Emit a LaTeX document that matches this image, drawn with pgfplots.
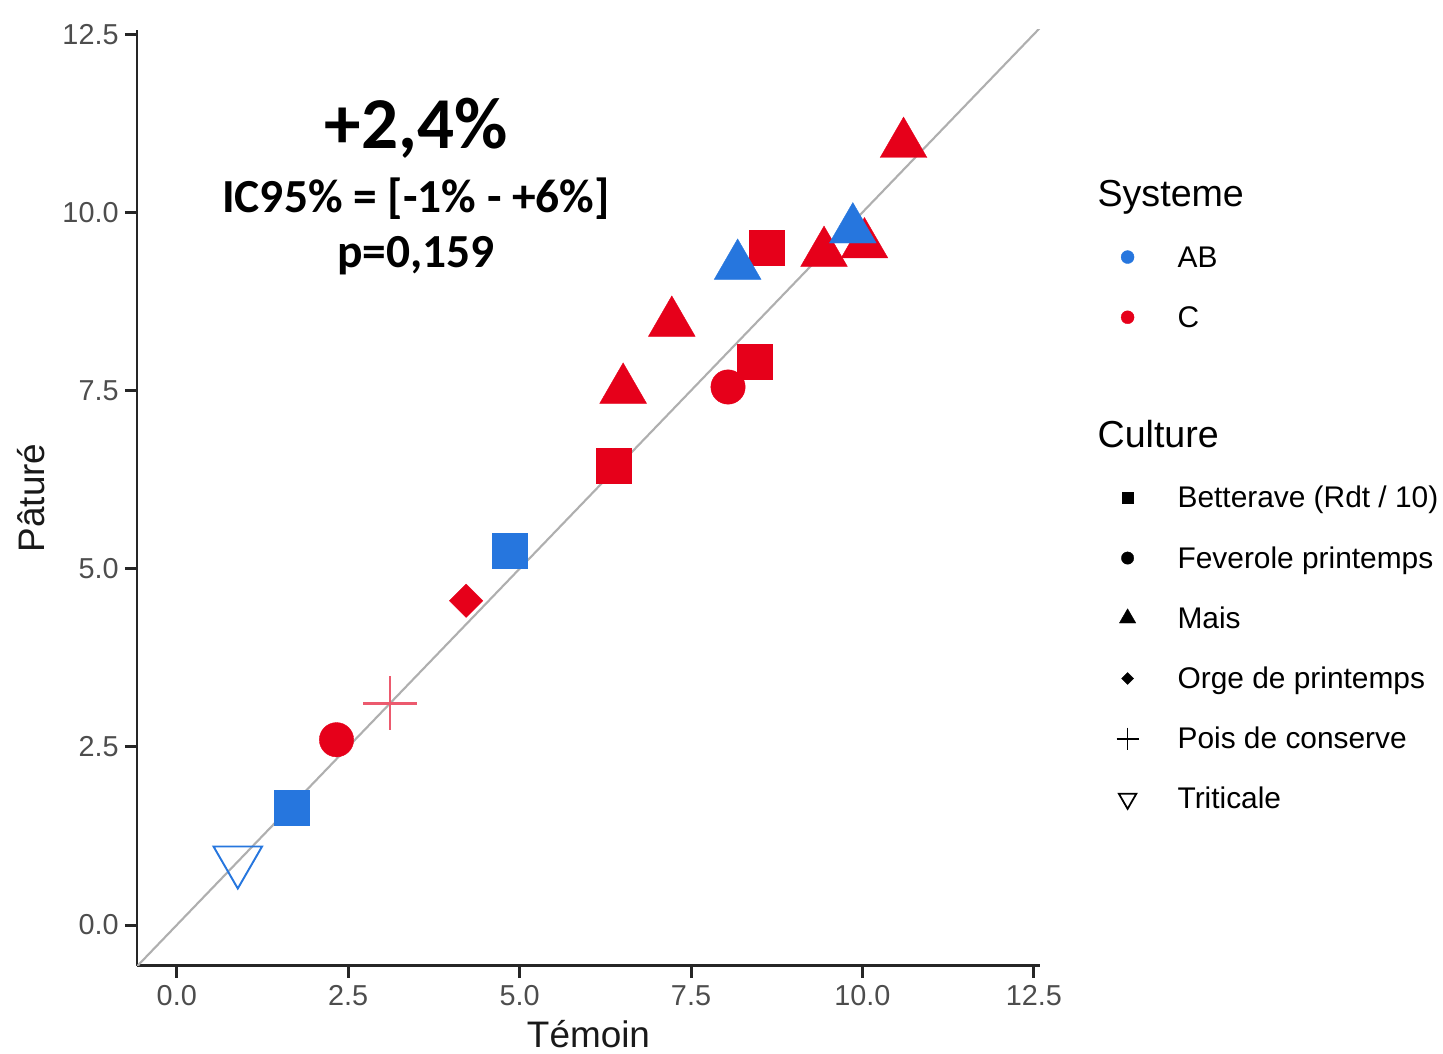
\documentclass[border=0pt]{standalone}
\usepackage{pgfplots}
\pgfplotsset{compat=1.18}
\usepackage{fontspec}
\setmainfont{Liberation Sans}
\newfontfamily\carlito{Carlito}
\definecolor{abblue}{RGB}{38,118,222}
\definecolor{cred}{RGB}{230,0,26}
\definecolor{plusred}{RGB}{236,90,110}
\definecolor{ticklab}{RGB}{77,77,77}
\definecolor{refline}{RGB}{175,175,175}
\pgfplotsset{legimg/.style={legend image code/.code={\path[draw=none,fill=none] (0mm,0mm) -- (6mm,0mm); \draw[##1, only marks] plot coordinates {(3mm,0mm)};}}}
\begin{document}
\begin{tikzpicture}
\begin{axis}[
 at={(0,0)}, anchor=south west,
 scale only axis, width=90.3mm, height=93.6mm,
 xmin=-0.58, xmax=12.59, ymin=-0.575, ymax=12.56,
 axis lines*=left, axis line style={line width=0.85pt, black!85},
 xtick={0,2.5,5,7.5,10,12.5}, ytick={0,2.5,5,7.5,10,12.5},
 tick align=outside, major tick length=1.2mm,
 tick style={line width=0.85pt, black!85},
 ticklabel style={font=\fontsize{8.2}{10}\selectfont, text=ticklab},
 xticklabel style={yshift=0.5mm},
 yticklabel style={xshift=0.6mm},
 /pgf/number format/fixed, /pgf/number format/fixed zerofill,
 /pgf/number format/precision=1, /pgf/number format/assume math mode=true,
 xlabel={Témoin}, ylabel={Pâturé},
 label style={font=\fontsize{10.5}{12}\selectfont, text=black!90},
 xlabel style={at={(axis description cs:0.5,-0.0876)}, anchor=base},
 ylabel style={at={(axis description cs:-0.102,0.5)}, anchor=base},
 legend style={at={(axis description cs:1.063,0.8417)}, anchor=north west, draw=none, fill=none, inner sep=0pt, row sep=2.42mm, column sep=2mm, font=\fontsize{8.5}{10}\selectfont, nodes={inner sep=0pt, text height=2.8mm, text depth=0.8mm}, cells={anchor=west}},
]
% C series
\addplot[forget plot, only marks, color=cred, mark=square*, mark size=1.75mm, mark options={solid, fill=cred, line width=0.1pt}] coordinates {(6.37,6.44) (8.43,7.90) (8.61,9.51)};
\addplot[forget plot, only marks, color=cred, mark=*, mark size=1.72mm, mark options={solid, fill=cred, line width=0.1pt}] coordinates {(2.33,2.60) (8.04,7.55)};
\addplot[forget plot, only marks, color=cred, mark=triangle*, mark size=2.7mm, mark options={solid, fill=cred, line width=0.1pt}] coordinates {(6.51,7.51) (7.22,8.45) (9.44,9.43) (10.03,9.55) (10.60,10.96)};
\addplot[forget plot, only marks, color=cred, mark=square*, mark size=1.18mm, mark options={solid, fill=cred, rotate=45, line width=0.1pt}] coordinates {(4.22,4.55)};
\addplot[forget plot, only marks, color=plusred, mark=+, mark size=2.7mm, mark options={solid, line width=0.65pt}] coordinates {(3.11,3.11)};
% AB series
\addplot[forget plot, only marks, color=abblue, mark=square*, mark size=1.75mm, mark options={solid, fill=abblue, line width=0.1pt}] coordinates {(1.68,1.64) (4.86,5.26)};
\addplot[forget plot, only marks, color=abblue, mark=triangle*, mark size=2.7mm, mark options={solid, fill=abblue, line width=0.1pt}] coordinates {(8.18,9.25) (9.86,9.76)};
\addplot[forget plot, only marks, color=abblue, mark=triangle, mark size=2.8mm, mark options={solid, fill=none, rotate=180, line width=0.55pt}] coordinates {(0.89,0.905)};
% reference line
\addplot[forget plot, refline, line width=0.6pt] coordinates {(-0.58,-0.58) (12.59,12.59)};
% annotations
\node[font=\carlito\bfseries\fontsize{20.8}{25}\selectfont, anchor=base] at (axis cs:3.49,10.90) {+2,4\%};
\node[font=\carlito\bfseries\fontsize{13.5}{16}\selectfont, anchor=base] at (axis cs:3.49,10.00) {IC95\% = [-1\% - +6\%]};
\node[font=\carlito\bfseries\fontsize{13.5}{16}\selectfont, anchor=base] at (axis cs:3.49,9.22) {p=0,159};
% legend
\addlegendimage{empty legend}
\addlegendentry{\fontsize{10.7}{12}\selectfont\hspace*{-8mm}Systeme}
\addlegendimage{legimg, color=abblue, mark=*, mark size=0.65mm, mark options={solid, fill=abblue, line width=0.1pt}}
\addlegendentry{AB}
\addlegendimage{legimg, color=cred, mark=*, mark size=0.65mm, mark options={solid, fill=cred, line width=0.1pt}}
\addlegendentry{C}
\addlegendimage{empty legend}
\addlegendentry{\phantom{C}}
\addlegendimage{empty legend}
\addlegendentry{\fontsize{10.7}{12}\selectfont\hspace*{-8mm}Culture}
\addlegendimage{legimg, color=black, mark=square*, mark size=0.58mm, mark options={solid, fill=black, line width=0.1pt}}
\addlegendentry{Betterave (Rdt / 10)}
\addlegendimage{legimg, color=black, mark=*, mark size=0.62mm, mark options={solid, fill=black, line width=0.1pt}}
\addlegendentry{Feverole printemps}
\addlegendimage{legimg, color=black, mark=triangle*, mark size=0.95mm, mark options={solid, fill=black, line width=0.1pt}}
\addlegendentry{Mais}
\addlegendimage{legimg, color=black, mark=square*, mark size=0.42mm, mark options={solid, fill=black, rotate=45, line width=0.1pt}}
\addlegendentry{Orge de printemps}
\addlegendimage{legimg, color=black, mark=+, mark size=1.1mm, mark options={solid, line width=0.5pt}}
\addlegendentry{Pois de conserve}
\addlegendimage{legimg, color=black, mark=triangle, mark size=1mm, mark options={solid, fill=none, rotate=180, line width=0.5pt}}
\addlegendentry{Triticale}
\end{axis}
\pgfresetboundingbox
\path[use as bounding box] (-13.7mm,-8.8mm) rectangle (130.6mm,96.6mm);
\end{tikzpicture}
\end{document}
